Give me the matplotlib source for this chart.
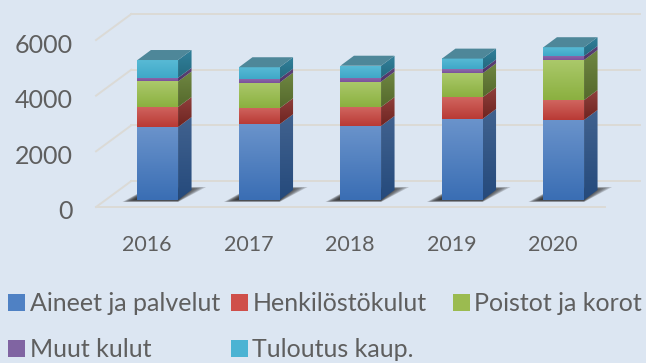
#!/usr/bin/env python3
import numpy as np
import matplotlib
matplotlib.use("Agg")
import matplotlib.pyplot as plt
from matplotlib.patches import Patch, Polygon
from matplotlib.colors import LinearSegmentedColormap

plt.rcParams['font.family'] = ['Lato', 'DejaVu Sans']

years = ['2016', '2017', '2018', '2019', '2020']
aineet = [2620, 2720, 2660, 2910, 2875]
henkilosto = [720, 575, 680, 780, 715]
poistot = [920, 920, 910, 860, 1440]
muut = [130, 145, 150, 140, 145]
tuloutus = [640, 410, 425, 390, 315]
y_ticks = [0, 2000, 4000, 6000]

names = ['Aineet ja palvelut', 'Henkilöstökulut', 'Poistot ja korot', 'Muut kulut', 'Tuloutus kaup.']
series = [aineet, henkilosto, poistot, muut, tuloutus]
# face top, face bottom, side top, side bottom
colors = [
    ('#6a93cb', '#3a6eb4', '#41628f', '#254a7c'),
    ('#d0655f', '#b93a35', '#8f403c', '#6f2420'),
    ('#abc96b', '#8bb040', '#6f8742', '#55692c'),
    ('#8f6cab', '#7a519b', '#5f4478', '#4d3466'),
    ('#58bad5', '#3fa8c8', '#32809a', '#236a80'),
]
legend_colors = ['#4f81c4', '#cf4f4a', '#9bbb50', '#8064a2', '#4bb3d3']

BG = '#dce6f2'
GRID = '#dbdad6'
TEXT = '#5f5f5f'
TOP = '#4e8799'

# px per unit
PX_X = 101.5
PX_Y = 0.02783
W, H = 646, 363
X0_PX, Y0_PX = 157.75, 200

BAR_W = 0.4
DX = 13.5 / PX_X
DY = 10 / PX_Y
FRONT_DY = -7 / PX_Y
BACK_DY = 19 / PX_Y
FRONT_L, FRONT_R = -0.608, 4.406
BACK_L, BACK_R = -0.26, 4.75


def gradient(ax, x0, x1, y0, y1, c_top, c_bot, clip=None, z=3):
    cmap = LinearSegmentedColormap.from_list('g', [c_top, c_bot])
    im = ax.imshow(np.linspace(0, 1, 64).reshape(-1, 1), cmap=cmap, aspect='auto',
                   extent=(x0, x1, y0, y1), zorder=z, interpolation='bilinear')
    if clip is not None:
        poly = Polygon(clip, closed=True, transform=ax.transData)
        im.set_clip_path(poly)


fig = plt.figure(figsize=(W / 100, H / 100), dpi=100, facecolor=BG)
ax = fig.add_axes([0, 0, 1, 1])
ax.set_facecolor(BG)
ax.axis('off')

# grid lines on back wall and side wall
for v in y_ticks:
    ax.plot([BACK_L, BACK_R], [v + BACK_DY] * 2, color=GRID, lw=1.4, zorder=1)
    ax.plot([FRONT_L, BACK_L], [v + FRONT_DY, v + BACK_DY], color=GRID, lw=1.4, zorder=1)
    ax.text(FRONT_L - 0.225, v + FRONT_DY - 5 / PX_Y, str(v), ha='right', va='center',
            color=TEXT, fontsize=18)
ax.plot([FRONT_L, FRONT_R], [FRONT_DY] * 2, color=GRID, lw=1.4, zorder=1)

for i, year in enumerate(years):
    x0 = i - BAR_W / 2
    x1 = i + BAR_W / 2

    # soft shadow at the base, layers shrink toward the bar
    for t in np.linspace(0, 1, 9):
        left = (15 - 12 * t) / PX_X
        right = (28 - 22 * t) / PX_X
        low = (2 - 2 * t) / PX_Y
        high = (13 - 3 * t) / PX_Y
        ax.add_patch(Polygon([(x0 - left, -low), (x1, -low), (x1 + right, high), (x0 + 12 / PX_X, high)],
                             closed=True, fc='#222222', ec='none', alpha=0.2, zorder=2))

    bottom = 0
    for vals, (c1, c2, c3, c4) in zip(series, colors):
        top = bottom + vals[i]
        gradient(ax, x0, x1, bottom, top, c1, c2, z=4)
        side = [(x1, bottom), (x1 + DX, bottom + DY), (x1 + DX, top + DY), (x1, top)]
        gradient(ax, x1, x1 + DX, bottom, top + DY, c3, c4, clip=side, z=3)
        bottom = top

    ax.add_patch(Polygon([(x0, bottom), (x1, bottom), (x1 + DX, bottom + DY), (x0 + DX, bottom + DY)],
                         closed=True, fc=TOP, ec='none', zorder=5))
    ax.text(i - 0.105, -1600, year, ha='center', va='center', color=TEXT, fontsize=15.5)

ax.set_xlim(-X0_PX / PX_X, (W - X0_PX) / PX_X)
ax.set_ylim(-(H - Y0_PX) / PX_Y, Y0_PX / PX_Y)

# legend, third column sits apart so it gets its own box
leg_kw = dict(frameon=False, fontsize=18, labelcolor=TEXT, handlelength=0.66, handleheight=0.66,
              handletextpad=0.2, labelspacing=0.93, borderpad=0.0, borderaxespad=0.0)
order = [0, 3, 1, 4]
handles = [Patch(fc=legend_colors[k], ec='none', label=names[k]) for k in order]
fig.legend(handles=handles, ncols=2, loc='upper left', bbox_to_anchor=(8 / W, 1 - 292 / H),
           columnspacing=0.45, **leg_kw)
fig.legend(handles=[Patch(fc=legend_colors[2], ec='none', label=names[2])], loc='upper left',
           bbox_to_anchor=(453 / W, 1 - 292 / H), **leg_kw)

fig.savefig('out.png', dpi=100, facecolor=BG)
